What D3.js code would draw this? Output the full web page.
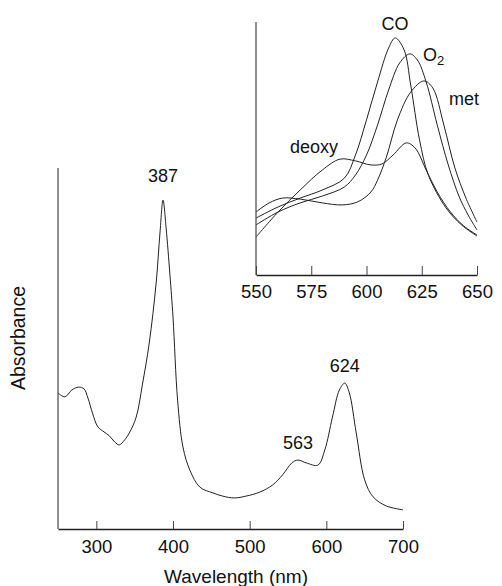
<!DOCTYPE html>
<html>
<head>
<meta charset="utf-8">
<script src="https://cdn.jsdelivr.net/npm/d3@7"></script>
<style>
  body { margin: 0; background: #fff; }
  svg { display: block; font-family: "Liberation Sans", Arial, Helvetica, sans-serif; }
</style>
</head>
<body>
<svg id="chart"></svg>
<script>
// main spectrum (wavelength nm, absorbance arb. units)
const mainWl = [250, 259, 268, 277, 284, 289, 295, 302, 310, 317, 324, 330, 337, 343, 352, 360, 369, 378, 383, 387, 391, 396, 400, 406, 413, 422, 435, 452, 465, 480, 495, 513, 530, 543, 555, 563, 574, 589, 598, 608, 617, 624, 630, 639, 650, 661, 678, 700];
const mainAbs = [0.377, 0.366, 0.385, 0.393, 0.388, 0.363, 0.321, 0.283, 0.269, 0.258, 0.241, 0.233, 0.247, 0.266, 0.310, 0.399, 0.515, 0.681, 0.820, 0.911, 0.834, 0.704, 0.587, 0.357, 0.227, 0.163, 0.116, 0.100, 0.091, 0.086, 0.091, 0.102, 0.122, 0.150, 0.183, 0.191, 0.183, 0.177, 0.219, 0.310, 0.385, 0.404, 0.377, 0.266, 0.136, 0.089, 0.064, 0.053];
const mainTicks = [300, 400, 500, 600, 700];
const peakLabels = [{ wl: 387, text: "387", dy: -18 }, { wl: 563, text: "563", dy: -11 }, { wl: 624, text: "624", dy: -11 }];

// inset spectra 550-650 nm
const coWl = [550, 560, 570, 580, 590, 595, 600, 605, 610, 613, 617, 620, 624, 628, 636, 643, 650];
const coAbs = [0.225, 0.269, 0.304, 0.336, 0.383, 0.474, 0.613, 0.763, 0.897, 0.937, 0.890, 0.751, 0.534, 0.395, 0.265, 0.198, 0.154];
const o2Wl = [550, 560, 570, 580, 590, 595, 600, 605, 610, 615, 619.6, 623, 627, 632, 637, 642, 646, 650];
const o2Abs = [0.198, 0.249, 0.285, 0.312, 0.348, 0.395, 0.474, 0.593, 0.731, 0.838, 0.874, 0.850, 0.763, 0.593, 0.435, 0.308, 0.237, 0.178];
const metWl = [550, 556, 562, 570, 580, 589, 596, 602, 605, 609, 614, 620, 626, 630, 635, 640, 645, 650];
const metAbs = [0.249, 0.285, 0.304, 0.300, 0.285, 0.277, 0.289, 0.328, 0.375, 0.466, 0.613, 0.723, 0.767, 0.739, 0.593, 0.423, 0.304, 0.209];
const deoxyWl = [550, 560, 570, 580, 588, 595, 602, 607, 612, 618, 622, 627, 632, 638, 644, 650];
const deoxyAbs = [0.150, 0.249, 0.336, 0.415, 0.458, 0.451, 0.435, 0.439, 0.474, 0.522, 0.502, 0.415, 0.328, 0.249, 0.194, 0.158];
const insetTicks = [550, 575, 600, 625, 650];

const width = 502, height = 586;
const svg = d3.select("#chart").attr("width", width).attr("height", height);

const zip = (xs, ys) => xs.map((x, i) => ({ x, y: ys[i] }));

// ---- main panel
const x = d3.scaleLinear().domain([250, 700]).range([58, 403]);
const y = d3.scaleLinear().domain([0, 1]).range([529, 168]);

const line = d3.line().x(d => x(d.x)).y(d => y(d.y)).curve(d3.curveCatmullRom.alpha(0.5));

svg.append("path")
  .datum(zip(mainWl, mainAbs))
  .attr("fill", "none")
  .attr("stroke", "#222")
  .attr("stroke-width", 1)
  .attr("d", line);

const xAxis = svg.append("g")
  .attr("transform", `translate(0,${y(0)})`)
  .call(d3.axisBottom(x).tickValues(mainTicks).tickSizeInner(-8).tickSizeOuter(0).tickPadding(11));
xAxis.select(".domain").attr("stroke", "#222").attr("stroke-width", 1.3);
xAxis.selectAll(".tick line").attr("stroke", "#444");
xAxis.selectAll("text").attr("font-size", 18.5).attr("fill", "#111").attr("font-family", null);

svg.append("line")
  .attr("x1", x(250)).attr("x2", x(250))
  .attr("y1", y(0)).attr("y2", y(1))
  .attr("stroke", "#444").attr("stroke-width", 1.2);

svg.selectAll(".peak")
  .data(peakLabels)
  .join("text")
  .attr("class", "peak")
  .attr("x", d => x(d.wl))
  .attr("y", d => y(mainAbs[mainWl.indexOf(d.wl)]) + d.dy)
  .attr("text-anchor", "middle")
  .attr("font-size", 18)
  .attr("fill", "#111")
  .text(d => d.text);

svg.append("text")
  .attr("x", 236).attr("y", 583)
  .attr("text-anchor", "middle")
  .attr("font-size", 19)
  .attr("fill", "#111")
  .text("Wavelength (nm)");

svg.append("text")
  .attr("transform", "translate(25,338) rotate(-90)")
  .attr("text-anchor", "middle")
  .attr("font-size", 19.5)
  .attr("fill", "#111")
  .text("Absorbance");

// ---- inset panel
const xi = d3.scaleLinear().domain([550, 650]).range([256, 477]);
const yi = d3.scaleLinear().domain([0, 1]).range([275, 22]);
const lineI = d3.line().x(d => xi(d.x)).y(d => yi(d.y)).curve(d3.curveCatmullRom.alpha(0.5));

const insetSeries = [
  zip(coWl, coAbs),
  zip(o2Wl, o2Abs),
  zip(metWl, metAbs),
  zip(deoxyWl, deoxyAbs)
];

svg.append("g")
  .selectAll("path")
  .data(insetSeries)
  .join("path")
  .attr("fill", "none")
  .attr("stroke", "#222")
  .attr("stroke-width", 1)
  .attr("d", lineI);

const xiAxis = svg.append("g")
  .attr("transform", `translate(0,${yi(0)})`)
  .call(d3.axisBottom(xi).tickValues(insetTicks).tickSizeInner(-9).tickSizeOuter(0).tickPadding(10));
xiAxis.select(".domain").attr("stroke", "#222").attr("stroke-width", 1.3);
xiAxis.selectAll(".tick line").attr("stroke", "#444");
xiAxis.selectAll("text").attr("font-size", 18.5).attr("fill", "#111").attr("font-family", null);

svg.append("line")
  .attr("x1", xi(550)).attr("x2", xi(550))
  .attr("y1", yi(0)).attr("y2", yi(1))
  .attr("stroke", "#444").attr("stroke-width", 1.2);

const insetText = svg.append("g").attr("font-size", 18).attr("fill", "#111");
insetText.append("text").attr("x", 395).attr("y", 30).attr("text-anchor", "middle").text("CO");
const o2 = insetText.append("text").attr("x", 423).attr("y", 61);
o2.append("tspan").text("O");
o2.append("tspan").attr("font-size", 13).attr("dy", 4).text("2");
insetText.append("text").attr("x", 464).attr("y", 105).attr("text-anchor", "middle").text("met");
insetText.append("text").attr("x", 314).attr("y", 153).attr("text-anchor", "middle").text("deoxy");
</script>
</body>
</html>
